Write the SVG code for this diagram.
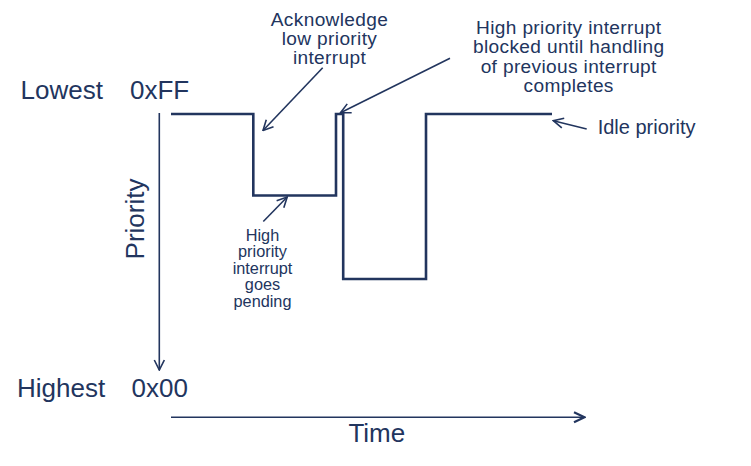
<svg xmlns="http://www.w3.org/2000/svg" width="751" height="466" viewBox="0 0 751 466">
<defs>
<style>
.t{font-family:"Liberation Sans",Arial,sans-serif;fill:#22355e}
.big{font-size:26px}
.mid{font-size:20px}
.ml{font-size:19.1px;letter-spacing:0.35px}
.sm{font-size:16.3px}
.ln{stroke:#22355e;fill:none;stroke-width:1.6}
.wave{stroke:#22355e;fill:none;stroke-width:2.6;stroke-linejoin:miter}
</style>
<marker id="ah" markerWidth="12" markerHeight="12" viewBox="0 0 12 12" refX="11" refY="6" orient="auto" markerUnits="userSpaceOnUse">
<path d="M1,1 L11,6 L1,11" fill="none" stroke="#22355e" stroke-width="1.6"/>
</marker>
<marker id="ahb" markerWidth="14" markerHeight="14" viewBox="0 0 14 14" refX="12.5" refY="7" orient="auto" markerUnits="userSpaceOnUse">
<path d="M2,2 L12.5,7 L2,12" fill="none" stroke="#22355e" stroke-width="2.2"/>
</marker>
</defs>
<rect width="751" height="466" fill="#ffffff"/>
<g id="connectors">
<line class="ln" x1="159.3" y1="113" x2="159.3" y2="370" marker-end="url(#ah)"/>
<line class="ln" x1="171" y1="417.3" x2="584.5" y2="417.3" stroke-width="2.2" marker-end="url(#ahb)"/>
<line class="ln" x1="322.7" y1="67.7" x2="263" y2="130.5" marker-end="url(#ah)"/>
<line class="ln" x1="450" y1="58.3" x2="340.5" y2="112.8" marker-end="url(#ah)"/>
<line class="ln" x1="586.7" y1="129" x2="553.3" y2="120.7" marker-end="url(#ah)"/>
<line class="ln" x1="263.3" y1="221.5" x2="287.2" y2="197" marker-end="url(#ah)"/>
</g>
<g id="waveform">
<path class="wave" d="M171,114 H253.3 V195.5 H336 V114 H343.2 V279 H426 V114 H552"/>
</g>
<g id="label-lowest"><text class="t big" x="20.5" y="99.3">Lowest</text></g>
<g id="label-0xff"><text class="t big" x="130" y="99.3">0xFF</text></g>
<g id="label-highest"><text class="t big" x="17" y="396.7">Highest</text></g>
<g id="label-0x00"><text class="t big" x="131.5" y="396.7">0x00</text></g>
<g id="label-time"><text class="t big" x="376.8" y="441.7" text-anchor="middle">Time</text></g>
<g id="label-priority"><text class="t big" transform="translate(144,219) rotate(-90)" text-anchor="middle">Priority</text></g>
<g id="label-ack"><text class="t ml" text-anchor="middle"><tspan x="329.5" y="26">Acknowledge</tspan><tspan x="329.5" y="45.2">low priority</tspan><tspan x="329.5" y="64.4">interrupt</tspan></text></g>
<g id="label-blocked"><text class="t ml" text-anchor="middle"><tspan x="568.7" y="34">High priority interrupt</tspan><tspan x="568.7" y="53.3">blocked until handling</tspan><tspan x="568.7" y="72.6">of previous interrupt</tspan><tspan x="568.7" y="91.8">completes</tspan></text></g>
<g id="label-idle"><text class="t mid" x="597.7" y="134">Idle priority</text></g>
<g id="label-pending"><text class="t sm" text-anchor="middle"><tspan x="262.5" y="241">High</tspan><tspan x="262.5" y="257.4">priority</tspan><tspan x="262.5" y="273.8">interrupt</tspan><tspan x="262.5" y="290.2">goes</tspan><tspan x="262.5" y="306.6">pending</tspan></text></g>
</svg>
